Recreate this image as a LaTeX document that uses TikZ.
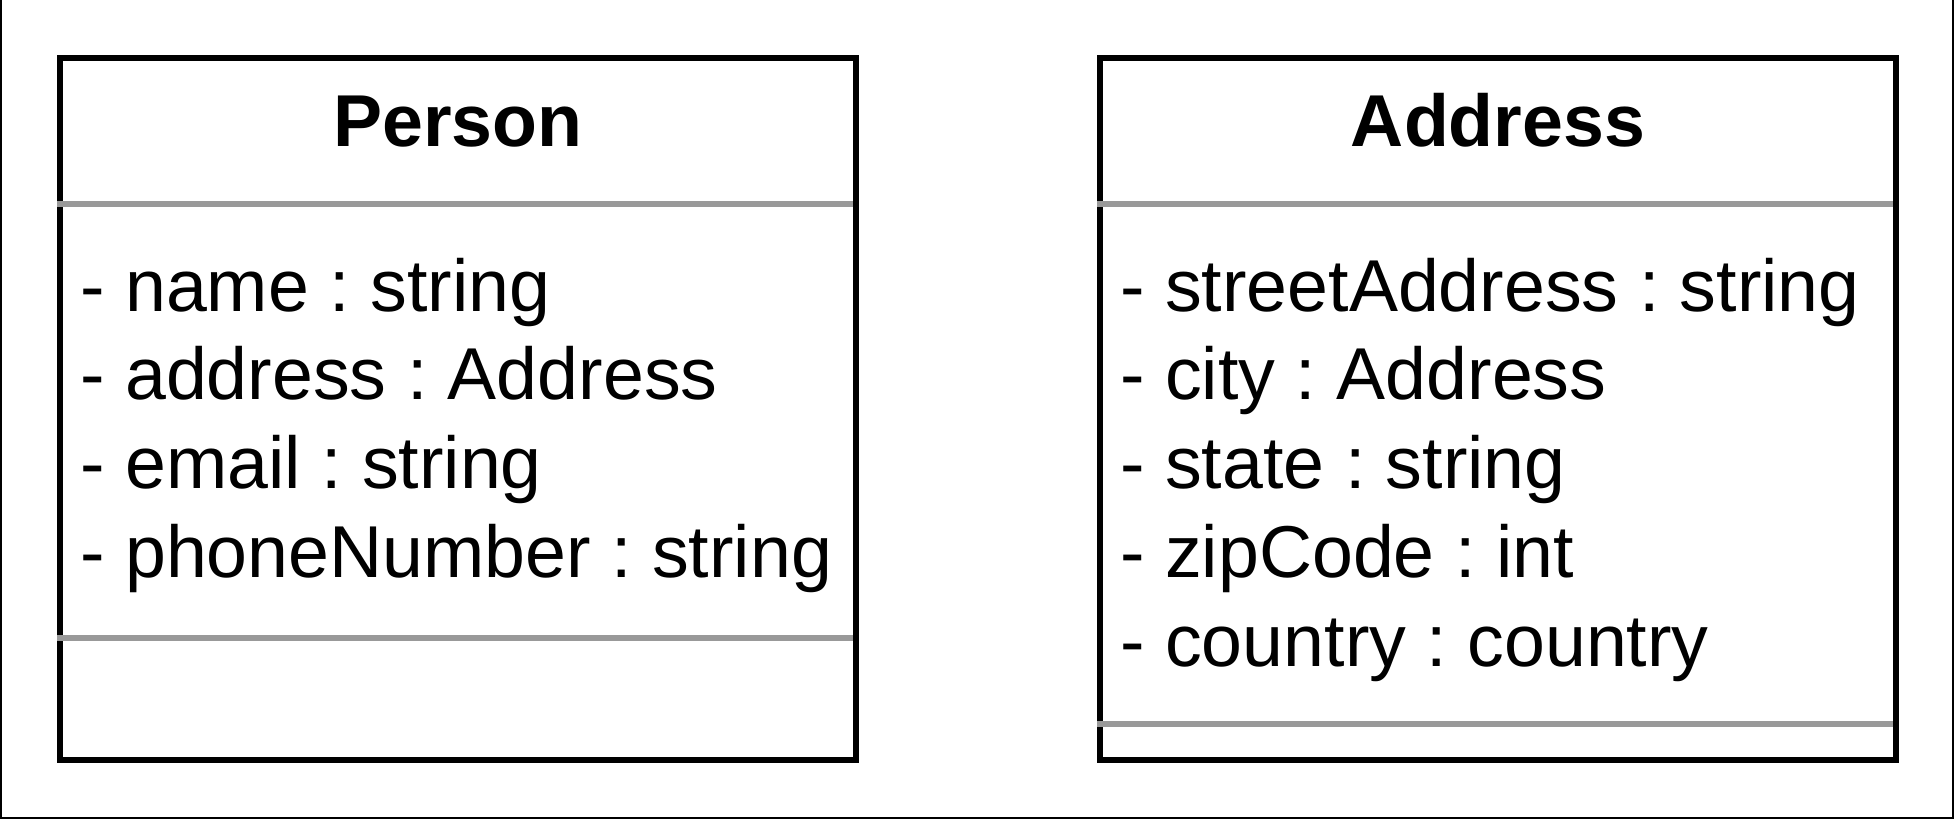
\documentclass[tikz,border=0pt]{standalone}
\usepackage{fontspec}
\setmainfont{Liberation Sans}
\frenchspacing
\usetikzlibrary{positioning}

\begin{document}
\begin{tikzpicture}[
        x = 0.5pt, y = -0.5pt,
        classbox/.style={
            rectangle, draw = black, line width = 3pt, inner sep = 0pt, outer sep = 0pt,
            minimum width = 398pt, minimum height = 351.25pt
        },
        classname/.style={
            font = \fontsize{36.75}{44.4}\selectfont\bfseries, inner sep = 0pt, anchor = base
        },
        members/.style={
            font = \fontsize{36.75}{44.4}\selectfont, inner sep = 0pt, align = left, anchor = base west
        },
        divider/.style={
            draw = black!40, line width = 3pt, shorten <= -1.5pt, shorten >= 1.5pt
        },
    ]
        \useasboundingbox (0,0) rectangle (1954,820);
        \draw[line width = 1pt] (1,0) -- (1,818) -- (1953,818) -- (1953,0);

        \coordinate (sepA) at (0,204);
        \coordinate (personSepB) at (0,638);
        \coordinate (addressSepB) at (0,724);

        \node (person) [classbox] at (458,408.75) {};
        \node (address) [classbox,right=122pt of person] {};

        \node (personName) [classname] at (458,146) {Person};
        \node (addressName) [classname] at (1498,146) {Address};

        \draw[divider] (person.west |- sepA) -- (person.east |- sepA);
        \draw[divider] (person.west |- personSepB) -- (person.east |- personSepB);
        \draw[divider] (address.west |- sepA) -- (address.east |- sepA);
        \draw[divider] (address.west |- addressSepB) -- (address.east |- addressSepB);

        % base anchor sits on the last line
        \node (personAttrs) [members] at (80,577.4) {- name : string\\- address : Address\\- email : string\\- phoneNumber : string};
        \node (addressAttrs) [members] at (1120,666.2) {- streetAddress : string\\- city : Address\\- state : string\\- zipCode : int\\- country : country};

    \end{tikzpicture}
\end{document}
